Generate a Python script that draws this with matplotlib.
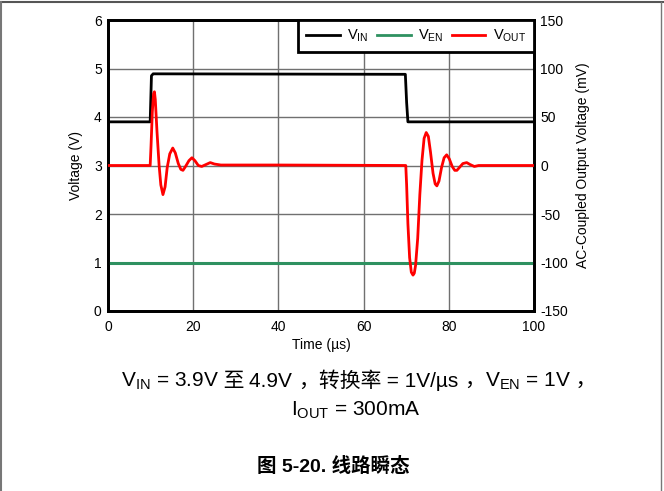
import matplotlib
matplotlib.use("Agg")
import matplotlib.pyplot as plt
from matplotlib.lines import Line2D
from matplotlib.offsetbox import TextArea, HPacker, AnchoredOffsetbox

plt.rcParams['font.family'] = ['Liberation Sans', 'Noto Sans CJK SC', 'DejaVu Sans']
plt.rcParams['mathtext.fontset'] = 'custom'
plt.rcParams['mathtext.rm'] = 'Liberation Sans'
plt.rcParams['mathtext.it'] = 'Liberation Sans'
plt.rcParams['mathtext.bf'] = 'Liberation Sans:bold'
plt.rcParams['mathtext.default'] = 'rm'
plt.rcParams['axes.unicode_minus'] = False

# ---- data ----
vin_t = [0, 9.9, 10.2, 10.6, 69.8, 70.1, 70.4, 100]
vin_v = [3.9, 3.9, 4.85, 4.89, 4.88, 4.3, 3.9, 3.9]

ven_t = [0, 100]
ven_v = [1.0, 1.0]

vout_t = [0, 9.9, 10.1, 10.4, 10.7, 10.9, 11.1, 11.5, 12.0, 12.4, 12.9, 13.4, 13.9,
          14.5, 15.2, 15.8, 16.5, 17.1, 17.6, 18.2, 19.0, 19.7, 20.4, 21.2, 22.0,
          23.0, 24.0, 25.0, 26.5, 40.0, 69.9,
          70.1, 70.4, 70.8, 71.2, 71.6, 71.9, 72.2, 72.7, 73.2, 73.7, 74.2, 74.7,
          75.2, 75.7, 76.3, 76.8, 77.2, 77.7, 78.3, 78.9, 79.5, 80.1, 80.8, 81.4,
          81.9, 82.5, 83.3, 84.2, 85.0, 86.0, 87.0, 100]
vout_mv = [0, 0, 20, 55, 74, 76, 68, 35, 0, -20, -30, -22, -2,
           12, 18, 13, 2, -4, -5, -1, 5, 8, 5, 0, -1,
           1, 3, 1.5, 0.5, 0.5, 0,
           -20, -60, -95, -110, -113, -111, -103, -75, -30, 5, 28, 34,
           30, 14, -8, -19, -21, -16, -2, 8, 11, 7, -1, -5,
           -5, -2, 2, 3, 1, -1, 0, 0]

x_ticks = [0, 20, 40, 60, 80, 100]
left_ticks = [0, 1, 2, 3, 4, 5, 6]
right_ticks = [-150, -100, -50, 0, 50, 100, 150]

fig = plt.figure(figsize=(6.64, 4.91), dpi=100)
ax = fig.add_axes([108/664, 1-311/491, (534-108)/664, (311-20)/491])
ax2 = ax.twinx()

ax.set_xlim(0, 100)
ax.set_ylim(0, 6)
ax2.set_ylim(-150, 150)
ax.set_xticks(x_ticks)
ax.set_yticks(left_ticks)
ax2.set_yticks(right_ticks)
ax.grid(True, color='#707070', linewidth=1.0)
ax.set_axisbelow(True)

c_vin = 'black'
c_ven = '#2e9160'
c_vout = '#ff0000'
ax.plot(ven_t, ven_v, color=c_ven, lw=2.2, zorder=3)
ax.plot(vin_t, vin_v, color=c_vin, lw=2.0, zorder=3)
ax2.plot(vout_t, vout_mv, color=c_vout, lw=2.0, zorder=3)

for a in (ax, ax2):
    for s in a.spines.values():
        s.set_linewidth(2.0)
    a.tick_params(length=0, labelsize=10)
    a.tick_params(axis='y', pad=4.5)
ax.tick_params(axis='x', pad=6.5)

ax.set_xlabel('Time (µs)', fontsize=10, labelpad=3)
ax.set_ylabel('Voltage (V)', fontsize=10, labelpad=8)
ax2.set_ylabel('AC-Coupled Output Voltage (mV)', fontsize=10, labelpad=6)

handles = [Line2D([], [], color=c_vin, lw=2),
           Line2D([], [], color=c_ven, lw=2),
           Line2D([], [], color=c_vout, lw=2)]
labels = [r'V$_{\mathrm{IN}}$', r'V$_{\mathrm{EN}}$', r'V$_{\mathrm{OUT}}$']
leg = ax2.legend(handles, labels, loc='upper right', ncol=3, fontsize=10.5,
                 frameon=True, fancybox=False, borderaxespad=0, handlelength=2.3,
                 columnspacing=0.6, handletextpad=0.5, borderpad=0.55)
leg.get_frame().set_edgecolor('black')
leg.get_frame().set_linewidth(2.0)
leg.get_frame().set_alpha(1)

cap_fs = 15
latin = dict(fontsize=cap_fs, family=['Liberation Sans'])
cjk = dict(fontsize=cap_fs, family=['Noto Sans CJK SC'])
pieces = [
    (r'V$_{\mathrm{IN}}$ = 3.9V', latin),
    (' 至 ', cjk),
    ('4.9V ', latin),
    ('，转换率', cjk),
    (' = 1V/µs ', latin),
    ('，', cjk),
    (r'V$_{\mathrm{EN}}$ = 1V', latin),
    (' ，', cjk),
]
row = HPacker(children=[TextArea(s, textprops=p) for s, p in pieces],
              align='baseline', pad=0, sep=0)
box = AnchoredOffsetbox(loc='center', child=row, pad=0, frameon=False,
                        bbox_to_anchor=(359/664, 1-381/491),
                        bbox_transform=fig.transFigure, borderpad=0)
fig.add_artist(box)

fig.text(356/664, 1-410/491, r'I$_{\mathrm{OUT}}$ = 300mA',
         ha='center', va='center', fontsize=cap_fs)
fig.text(333/664, 1-467/491, '图 5-20. 线路瞬态', ha='center', va='center',
         fontsize=14, fontweight='bold',
         family=['Liberation Sans', 'Noto Sans CJK SC'])

fig.add_artist(Line2D([0, 1], [1-2/491, 1-2/491], transform=fig.transFigure,
                      color='#555555', lw=1.5))
fig.add_artist(Line2D([0.5/664, 0.5/664], [0, 1-2/491], transform=fig.transFigure,
                      color='#777777', lw=1.5))
fig.add_artist(Line2D([661/664, 661/664], [0, 1-2/491], transform=fig.transFigure,
                      color='#777777', lw=1.0))

fig.savefig('out.png', dpi=100)
